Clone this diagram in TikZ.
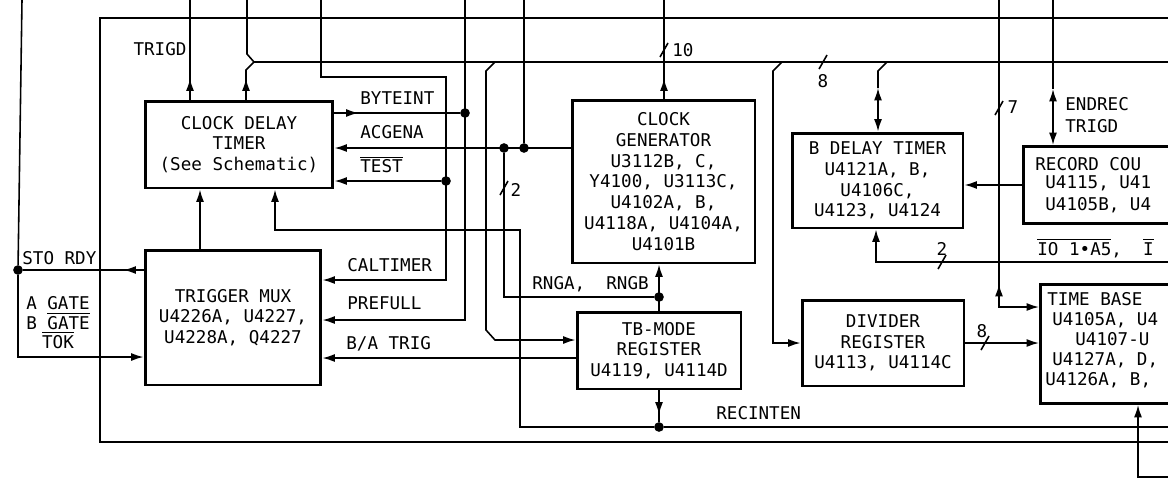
\documentclass[tikz,border=0pt]{standalone}
\usepackage{fontspec}
\setmonofont{DejaVu Sans Mono}
\usetikzlibrary{arrows.meta}

\begin{document}
\begin{tikzpicture}[x=0.02cm,y=-0.02cm,
    font=\ttfamily\fontsize{10}{11.8}\selectfont,
    wire/.style={line width=0.9pt},
    blk/.style={draw,line width=1.7pt,align=center,inner sep=0pt},
    lbl/.style={inner sep=0pt},
    dot/.style={circle,fill,inner sep=0pt,minimum size=5.5pt},
    >={Latex[length=7pt,width=4.5pt]}]
  \useasboundingbox (0,0) rectangle (1168,481);
  \clip (0,0) rectangle (1168,481);

  \draw[line width=1.5pt] (1168,18) -- (100,18) -- (100,442) -- (1168,442);

  \node[blk,minimum width=3.76cm,minimum height=1.74cm] (cdt) at (239,144.5) {CLOCK DELAY\\TIMER\\(See Schematic)};
  \node[blk,minimum width=3.52cm,minimum height=2.7cm] (mux) at (233,317.5) {TRIGGER MUX\\U4226A, U4227,\\U4228A, Q4227};
  \node[blk,minimum width=3.66cm,minimum height=3.26cm] (cg) at (663.5,181.5) {CLOCK\\GENERATOR\\U3112B, C,\\Y4100, U3113C,\\U4102A, B,\\U4118A, U4104A,\\U4101B};
  \node[blk,minimum width=3.28cm,minimum height=1.54cm] (tbm) at (659,350.5) {TB-MODE\\REGISTER\\U4119, U4114D};
  \node[blk,minimum width=3.42cm,minimum height=1.9cm] (bdt) at (877.5,180.5) {B DELAY TIMER\\U4121A, B,\\U4106C,\\U4123, U4124};
  \node[blk,minimum width=3.24cm,minimum height=1.72cm] (div) at (883,343) {DIVIDER\\REGISTER\\U4113, U4114C};
  \node[blk,anchor=north west,minimum width=4.6cm,minimum height=1.54cm] (rc) at (1022,145) {};
  \node[blk,anchor=north west,minimum width=4.6cm,minimum height=2.38cm] (tb) at (1039,283) {};

  \node[lbl,anchor=base west] (rc1) at (1035,170) {RECORD COU};
  \node[lbl,anchor=base west] (rc2) at (1045,188) {U4115, U41};
  \node[lbl,anchor=base west] (rc3) at (1045,210) {U4105B, U4};
  \node[lbl,anchor=base west] (tb1) at (1047,305) {TIME BASE};
  \node[lbl,anchor=base west] (tb2) at (1052,325) {U4105A, U4};
  \node[lbl,anchor=base west] (tb3) at (1075,345) {U4107-U};
  \node[lbl,anchor=base west] (tb4) at (1052,365) {U4127A, D,};
  \node[lbl,anchor=base west] (tb5) at (1045,385) {U4126A, B,};

  \coordinate (t1) at (190,0);
  \coordinate (t2) at (247,0);
  \coordinate (t3) at (321,0);
  \coordinate (t4) at (465,0);
  \coordinate (t5) at (524,0);
  \coordinate (t6) at (664,0);
  \coordinate (t7) at (999,0);
  \coordinate (t8) at (1053,0);
  \coordinate (busl) at (254,62);

  \node[dot] (srdy) at (18,270) {};
  \node[dot] (tst) at (446,181) {};
  \node[dot] (byt) at (465,113) {};
  \node[dot] (acg) at (524,148) {};
  \node[dot] (acg2) at (504,148) {};
  \node[dot] (rng) at (659,297) {};
  \node[dot] (rec) at (659,427) {};

  \draw[wire] (busl) -- (1168,62);

  \draw[wire] (22,0) -- (srdy);
  \draw[wire] (mux.west |- srdy) -- (srdy);
  \draw[wire,->] (mux.west |- srdy) -- ++(-20,0);
  \coordinate (gt) at (18,357);
  \draw[wire,->] (srdy) -- (gt) -- (mux.west |- gt);

  \draw[wire] (t1) -- (cdt.north -| t1);
  \draw[wire,->] (cdt.north -| t1) -- ++(0,-21);
  \draw[wire] (t2) -- ++(0,54) -- (busl) -- ++(-8,8) coordinate (b2) -- (cdt.north -| b2);
  \draw[wire,->] (cdt.north -| b2) -- ++(0,-21);
  \coordinate (m1) at (200,250);
  \draw[wire,->] (mux.north -| m1) -- (cdt.south -| m1);

  \coordinate (calt) at (446,280);
  \draw[wire,->] (t3) -- (321,77) -| (calt) -- (mux.east |- calt);
  \draw[wire,->] (tst) -- (cdt.east |- tst);
  \coordinate (pref) at (465,320);
  \draw[wire,->] (t4) -- (pref) -- (mux.east |- pref);
  \draw[wire] (cdt.east |- byt) -- (byt);
  \draw[wire,->] (cdt.east |- byt) -- ++(24,0);

  \draw[wire] (t5) -- (acg);
  \draw[wire,->] (cg.west |- acg) -- (cdt.east |- acg);
  \draw[wire] (acg2) |- (rng);
  \draw[wire,->] (tbm.north) -- (cg.south -| tbm.north);

  \coordinate (rv) at (520,230);
  \coordinate (cdtin) at (275,230);
  \draw[wire,->] (1168,427) -- (rec) -| (rv) -- (cdtin) -- (cdt.south -| cdtin);
  \draw[wire] (tbm.south) -- (rec);
  \draw[wire,->] (tbm.south) -- ++(0,24);

  \coordinate (tbin) at (495,340);
  \draw[wire,->] (495,62) -- ++(-9,9) -- ++(0,259) -- (tbin) -- (tbm.west |- tbin);
  \coordinate (ba) at (577,358);
  \draw[wire,->] (ba) -- (mux.east |- ba);

  \draw[wire] (t6) -- (cg.north -| t6);
  \draw[wire,->] (cg.north -| t6) -- ++(0,-20);

  \draw[wire,->] (782,62) -- ++(-9,9) |- (div.west);
  \draw[wire] (887,62) -- ++(-9,9) -- ++(0,17) coordinate (bd1);
  \draw[wire,<->] (bd1) -- (bdt.north -| bd1);

  \coordinate (tbc) at (999,307);
  \draw[wire,->] (t7) -- (tbc) -- (tb.west |- tbc);
  \draw[wire,->] (tbc) -- ++(0,-23);
  \draw[wire] (t8) -- ++(0,89) coordinate (rctop);
  \draw[wire,<->] (rctop) -- (rc.north -| rctop);
  \draw[wire,->] (rc.west) -- (bdt.east |- rc.west);

  \coordinate (two) at (876,262);
  \draw[wire,->] (1168,262) -- (two) -- (bdt.south -| two);
  \draw[wire,->] (div.east) -- (tb.west |- div.east);
  \coordinate (tbb) at (1138,477);
  \draw[wire,->] (1168,477) -- (tbb) -- (tb.south -| tbb);

  \foreach \px/\py in {504/188,664/50,823/62,999/108,942/262,985/343}
    \draw[wire] (\px-4,\py+7) -- (\px+4,\py-7);

  \node[lbl,anchor=base] (trigd) at (160,55.5) {TRIGD};
  \node[lbl,anchor=base west] (byteint) at (360,104.5) {BYTEINT};
  \node[lbl,anchor=base west] (acgena) at (360,138.5) {ACGENA};
  \node[lbl,anchor=base west] (test) at (360,172.5) {$\overline{\mbox{TEST}}$};
  \node[lbl,anchor=base west] (caltimer) at (347,271.5) {CALTIMER};
  \node[lbl,anchor=base west] (prefull) at (347,309.5) {PREFULL};
  \node[lbl,anchor=base west] (batrig) at (346,349.5) {B/A TRIG};
  \node[lbl,anchor=base west] (stordy) at (22,264) {STO RDY};
  \node[lbl,anchor=base] (agate) at (58,309) {A GATE};
  \node[lbl,anchor=base] (bgate) at (58,329) {B $\overline{\mbox{GATE}}$};
  \node[lbl,anchor=base] (tok) at (58,348) {$\overline{\mbox{TOK}}$};
  \node[lbl,anchor=base west] (rnga) at (532,289.5) {RNGA,\ \ RNGB};
  \node[lbl,anchor=base west] (recinten) at (716,419) {RECINTEN};
  \node[lbl,anchor=base] (n2a) at (516,196.5) {2};
  \node[lbl,anchor=base west] (n10) at (672,56) {10};
  \node[lbl,anchor=base] (n8a) at (823,87) {8};
  \node[lbl,anchor=base] (n7) at (1013,113) {7};
  \node[lbl,anchor=base west] (endrec) at (1065,110) {ENDREC};
  \node[lbl,anchor=base west] (trigd2) at (1065,132) {TRIGD};
  \node[lbl,anchor=base] (n2b) at (942,255) {2};
  \node[lbl,anchor=base] (n8b) at (982,337) {8};
  \node[lbl,anchor=base west] (io) at (1037,255) {$\overline{\mbox{IO 1•A5}}$,\ \ $\overline{\mbox{I}}$};
\end{tikzpicture}
\end{document}
